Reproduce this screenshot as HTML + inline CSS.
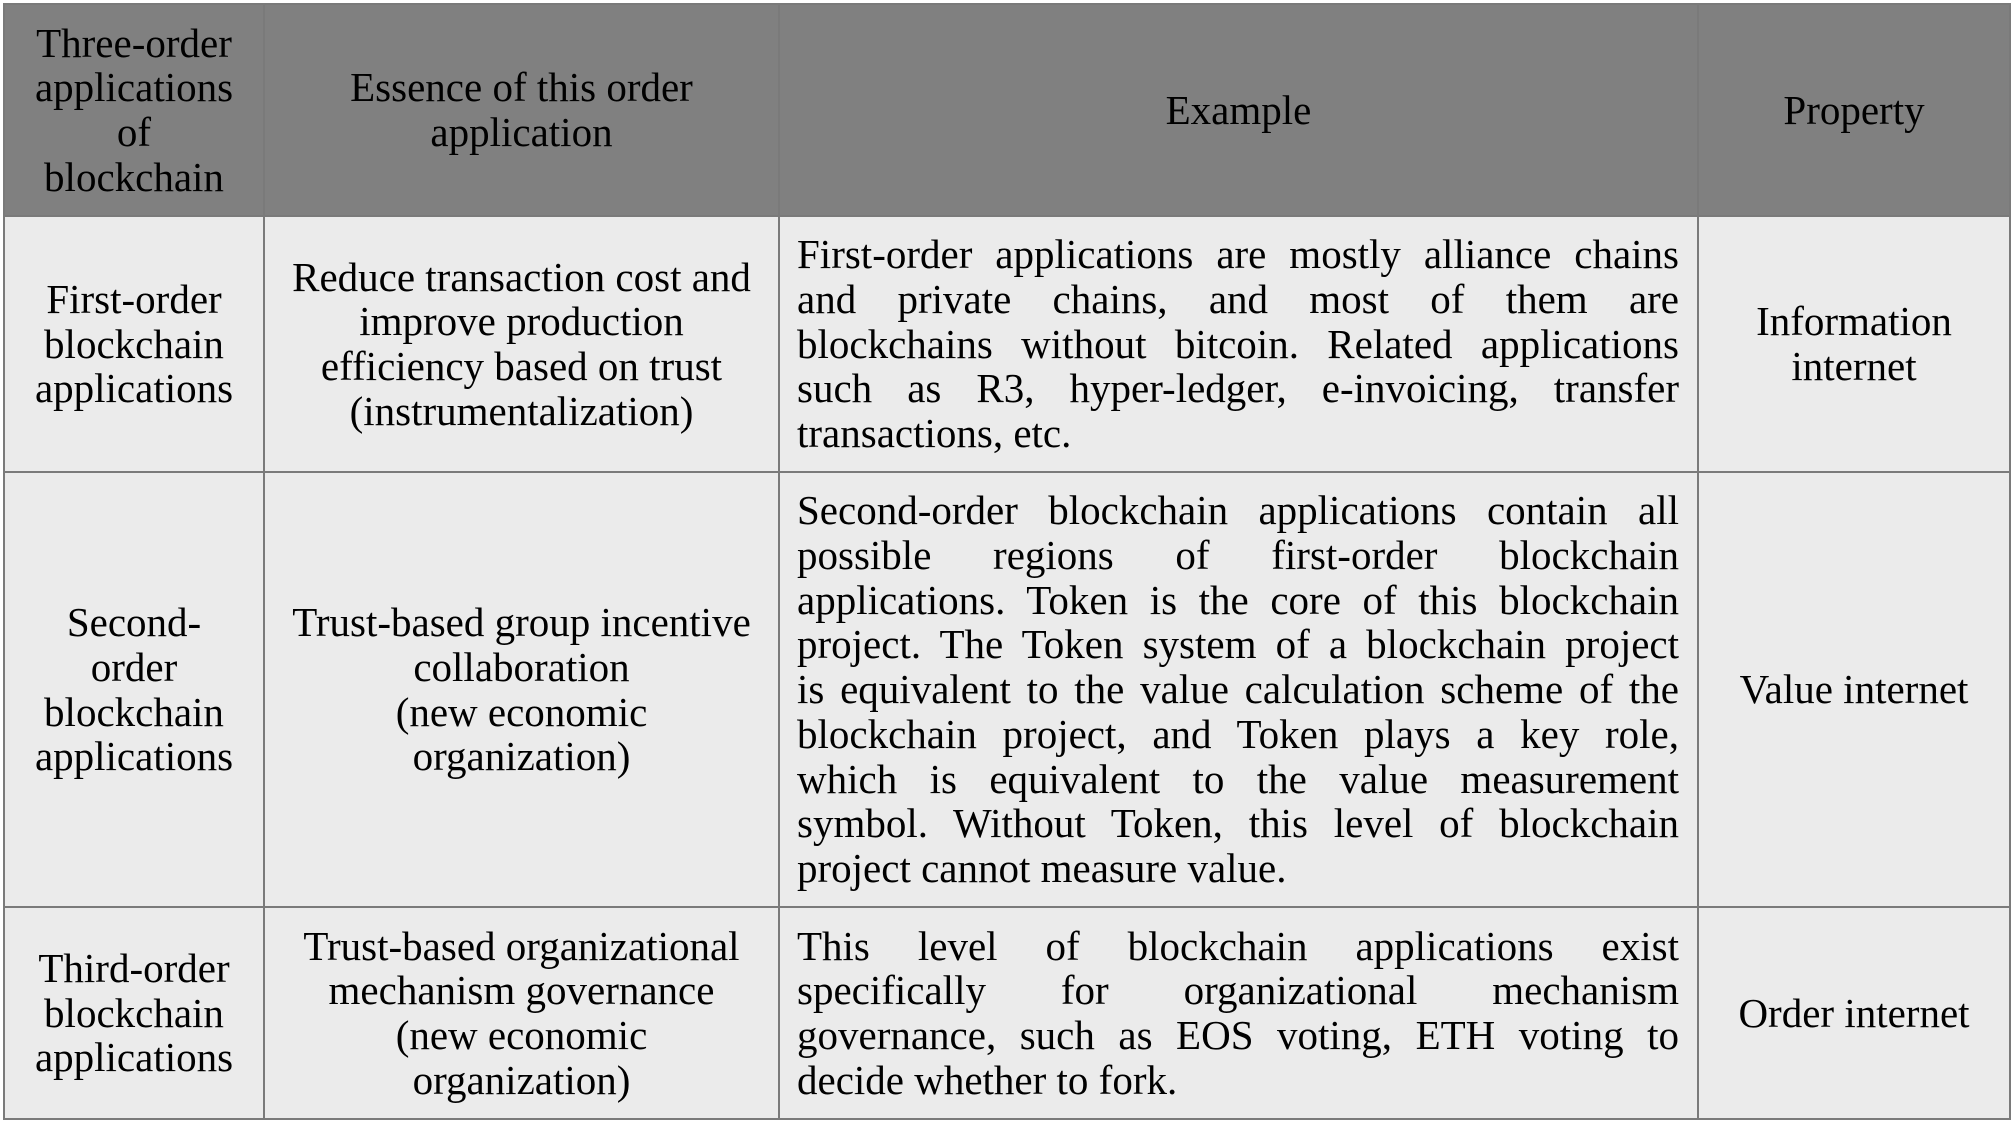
<!DOCTYPE html>
<html><head><meta charset="utf-8"><style>
html,body{margin:0;padding:0;background:#fff;width:2014px;height:1122px;overflow:hidden}
.c{position:absolute;box-sizing:border-box;display:flex;align-items:center;justify-content:center;text-align:center;font-family:"Liberation Serif",serif;font-size:41px;line-height:44.7px;color:#000;border:2px solid #7a7a7a;background:#ebebeb}
.h{background:#808080}
.j{justify-content:flex-start;padding:0 18px 0 17px}
.j>div{width:100%}
.j span{display:block;text-align:justify;text-align-last:justify;white-space:nowrap}
.j span.l{text-align-last:left}
</style></head><body>
<div class="c h" style="left:3px;top:3px;width:262px;height:214px"><div>Three-order<br>applications<br>of<br>blockchain</div></div>
<div class="c h" style="left:263px;top:3px;width:517px;height:214px"><div>Essence of this order<br>application</div></div>
<div class="c h" style="left:778px;top:3px;width:921px;height:214px"><div>Example</div></div>
<div class="c h" style="left:1697px;top:3px;width:314px;height:214px"><div>Property</div></div>

<div class="c" style="left:3px;top:215px;width:262px;height:258px"><div>First-order<br>blockchain<br>applications</div></div>
<div class="c" style="left:263px;top:215px;width:517px;height:258px"><div>Reduce transaction cost and<br>improve production<br>efficiency based on trust<br>(instrumentalization)</div></div>
<div class="c j" style="left:778px;top:215px;width:921px;height:258px"><div>
<span>First-order applications are mostly alliance chains</span>
<span>and private chains, and most of them are</span>
<span>blockchains without bitcoin. Related applications</span>
<span>such as R3, hyper-ledger, e-invoicing, transfer</span>
<span class="l">transactions, etc.</span></div></div>
<div class="c" style="left:1697px;top:215px;width:314px;height:258px"><div>Information<br>internet</div></div>

<div class="c" style="left:3px;top:471px;width:262px;height:437px"><div>Second-<br>order<br>blockchain<br>applications</div></div>
<div class="c" style="left:263px;top:471px;width:517px;height:437px"><div>Trust-based group incentive<br>collaboration<br>(new economic<br>organization)</div></div>
<div class="c j" style="left:778px;top:471px;width:921px;height:437px"><div>
<span>Second-order blockchain applications contain all</span>
<span>possible regions of first-order blockchain</span>
<span>applications. Token is the core of this blockchain</span>
<span>project. The Token system of a blockchain project</span>
<span>is equivalent to the value calculation scheme of the</span>
<span>blockchain project, and Token plays a key role,</span>
<span>which is equivalent to the value measurement</span>
<span>symbol. Without Token, this level of blockchain</span>
<span class="l">project cannot measure value.</span></div></div>
<div class="c" style="left:1697px;top:471px;width:314px;height:437px"><div>Value internet</div></div>

<div class="c" style="left:3px;top:906px;width:262px;height:214px"><div>Third-order<br>blockchain<br>applications</div></div>
<div class="c" style="left:263px;top:906px;width:517px;height:214px"><div>Trust-based organizational<br>mechanism governance<br>(new economic<br>organization)</div></div>
<div class="c j" style="left:778px;top:906px;width:921px;height:214px"><div>
<span>This level of blockchain applications exist</span>
<span>specifically for organizational mechanism</span>
<span>governance, such as EOS voting, ETH voting to</span>
<span class="l">decide whether to fork.</span></div></div>
<div class="c" style="left:1697px;top:906px;width:314px;height:214px"><div>Order internet</div></div>
</body></html>
